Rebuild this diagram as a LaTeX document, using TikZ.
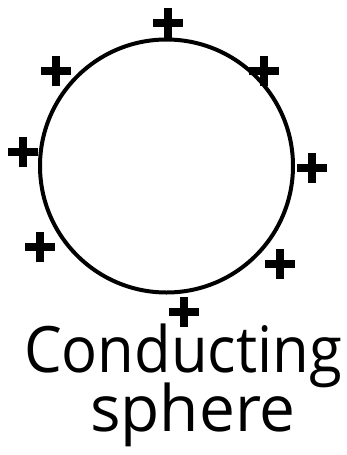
\documentclass[tikz,border=0pt]{standalone}
\usepackage{fontspec}
\usepackage{graphicx}
\setmainfont{Open Sans}
\begin{document}
\begin{tikzpicture}[x=1pt,y=-1pt,
  plus/.style={line width=8pt},
  lbl/.style={anchor=base,inner sep=0pt,font=\fontsize{64}{70}\selectfont}]
\useasboundingbox (0,0) rectangle (347,455);
\node[circle,draw,line width=4pt,minimum size=253pt,inner sep=0pt] (s) at (166.5,166) {};
\foreach \n/\x/\y in {p1/168/23, p2/56/71, p3/264/71, p4/23/152, p5/312/168, p6/40/247, p7/280/264, p8/184/312}{
  \coordinate (\n) at (\x,\y);
  \draw[plus] ([xshift=-15pt]\n) -- ([xshift=15pt]\n);
  \draw[plus] ([yshift=-15pt]\n) -- ([yshift=15pt]\n);
}
\node[lbl] (t1) at (183,372) {\resizebox{318pt}{\height}{Conducting}};
\node[lbl] (t2) at (193,431) {sphere};
\end{tikzpicture}
\end{document}
